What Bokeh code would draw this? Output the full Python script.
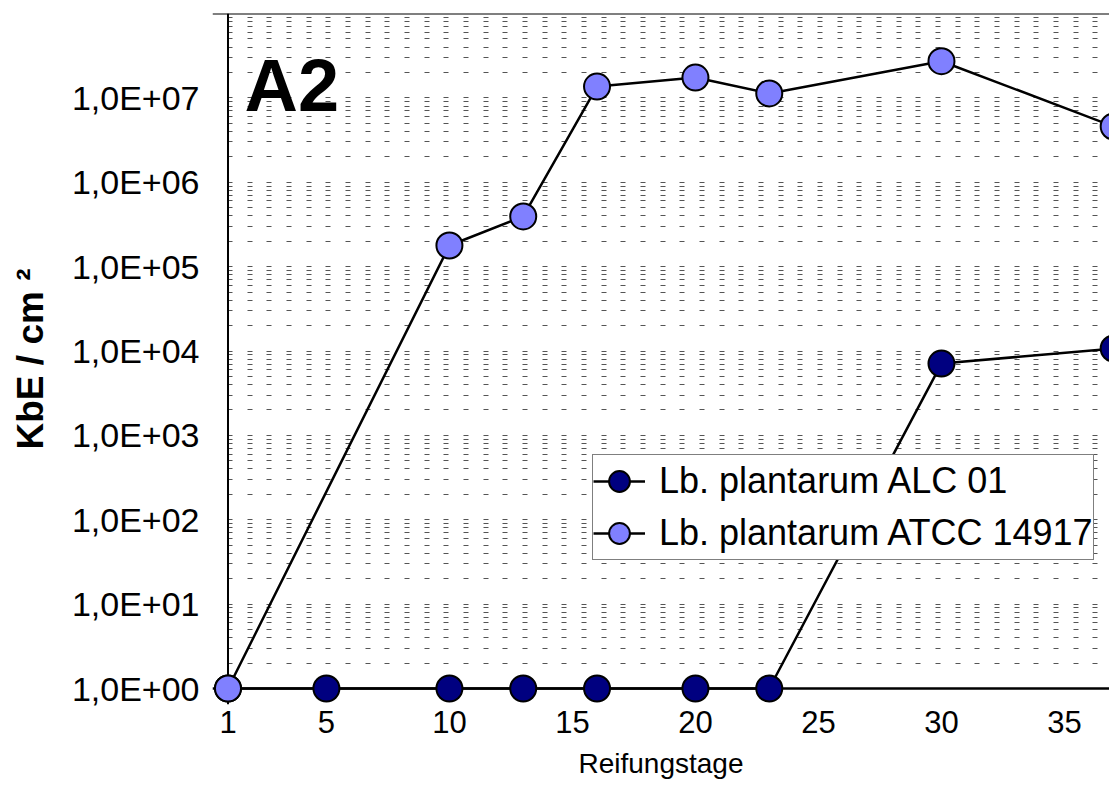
from bokeh.plotting import figure
from bokeh.models import (Range1d, FixedTicker, CustomJSTickFormatter, Span, Label,
                          Legend, LegendItem)
from bokeh.embed import file_html
from bokeh.resources import INLINE

# ---- data ----
series_names = ["Lb. plantarum ALC 01", "Lb. plantarum ATCC 14917"]
days_alc = [1, 5, 10, 13, 16, 20, 23, 30, 37]
cfu_alc = [1, 1, 1, 1, 1, 1, 1, 7.1e3, 1.07e4]
days_atcc = [1, 10, 13, 16, 20, 23, 30, 37]
cfu_atcc = [1, 1.78e5, 3.93e5, 1.36e7, 1.74e7, 1.13e7, 2.72e7, 4.58e6]

x_ticks = [1, 5, 10, 15, 20, 25, 30, 35]
y_ticks = [1e0, 1e1, 1e2, 1e3, 1e4, 1e5, 1e6, 1e7]
y_tick_labels = ["1,0E+00", "1,0E+01", "1,0E+02", "1,0E+03",
                 "1,0E+04", "1,0E+05", "1,0E+06", "1,0E+07"]
y_minor = [m * 10.0 ** k for k in range(0, 8) for m in range(2, 10)]
panel_label = "A2"
x_title = "Reifungstage"
y_title = "KbE / cm \u00b2"

FONT = "Liberation Sans"

p = figure(frame_width=897, frame_height=691,
           min_border_left=212, min_border_top=13, min_border_right=0, min_border_bottom=80,
           y_axis_type="log",
           x_range=Range1d(0.37, 36.83),
           y_range=Range1d(10 ** (-16 / 84.375), 1e8),
           output_backend="svg", toolbar_location=None)
p.outline_line_color = None
p.background_fill_color = "white"
p.border_fill_color = "white"

# axes
p.xaxis.ticker = FixedTicker(ticks=x_ticks)
p.xaxis.axis_line_color = None
p.xaxis.major_tick_line_color = None
p.xaxis.minor_tick_line_color = None
p.xaxis.major_label_text_font = FONT
p.xaxis.major_label_text_font_size = "31px"
p.xaxis.major_label_text_color = "black"
p.xaxis.major_label_standoff = 0
p.xaxis.axis_label = x_title
p.xaxis.axis_label_text_font = FONT
p.xaxis.axis_label_text_font_size = "28px"
p.xaxis.axis_label_text_font_style = "normal"
p.xaxis.axis_label_text_color = "black"
p.xaxis.axis_label_standoff = 12

p.yaxis.ticker = FixedTicker(ticks=y_ticks, minor_ticks=y_minor)
p.yaxis.formatter = CustomJSTickFormatter(
    args=dict(vals=y_ticks, labs=y_tick_labels),
    code="""
    const i = vals.findIndex(v => Math.abs(Math.log10(v) - Math.log10(tick)) < 1e-6);
    return i >= 0 ? labs[i] : '';
    """)
p.yaxis.axis_line_color = None
p.yaxis.major_tick_line_color = None
p.yaxis.minor_tick_line_color = None
p.yaxis.major_label_text_font = FONT
p.yaxis.major_label_text_font_size = "34px"
p.yaxis.major_label_text_color = "black"
p.yaxis.major_label_standoff = 7
p.yaxis.axis_label = y_title
p.yaxis.axis_label_text_font = FONT
p.yaxis.axis_label_text_font_size = "37px"
p.yaxis.axis_label_text_font_style = "bold"
p.yaxis.axis_label_text_color = "black"
p.yaxis.axis_label_standoff = 18

# grid: dashed horizontal lines at every log step
p.xgrid.grid_line_color = None
for attr in ("grid_line", "minor_grid_line"):
    setattr(p.ygrid, attr + "_color", "#555555")
    setattr(p.ygrid, attr + "_width", 1)
    setattr(p.ygrid, attr + "_dash", "5 15 5 15 5 14")
    setattr(p.ygrid, attr + "_dash_offset", 5)

# frame lines (left axis, bottom axis, top border)
p.add_layout(Span(location=x_ticks[0], dimension="height", line_color="black",
                  line_width=2, level="underlay"))
p.add_layout(Span(location=y_ticks[0], dimension="width", line_color="black",
                  line_width=2.5, level="underlay"))
p.add_layout(Span(location=1e8, dimension="width", line_color="black",
                  line_width=2, level="underlay"))

# series
l1 = p.line(days_alc, cfu_alc, line_color="black", line_width=2.5)
s1 = p.scatter(days_alc, cfu_alc, size=26, fill_color="#000080",
               line_color="black", line_width=2)
l2 = p.line(days_atcc, cfu_atcc, line_color="black", line_width=2.5)
s2 = p.scatter(days_atcc, cfu_atcc, size=26, fill_color="#8080FF",
               line_color="black", line_width=2)

legend = Legend(items=[LegendItem(label=series_names[0], renderers=[l1, s1]),
                       LegendItem(label=series_names[1], renderers=[l2, s2])],
                location=(380, 144), orientation="vertical",
                label_text_font=FONT, label_text_font_size="36px",
                label_text_color="black",
                glyph_width=52, glyph_height=52, label_height=52,
                label_standoff=14, spacing=0, padding=0, margin=0,
                border_line_color="black", border_line_width=1,
                background_fill_color="white", background_fill_alpha=1.0)
p.add_layout(legend, "center")

p.add_layout(Label(x=1.67, y=10 ** 7.147, text=panel_label, text_font=FONT,
                   text_font_size="74px", text_font_style="bold",
                   text_color="black", text_align="left",
                   text_baseline="middle"))

open("out.html", "w").write(file_html(p, INLINE))
